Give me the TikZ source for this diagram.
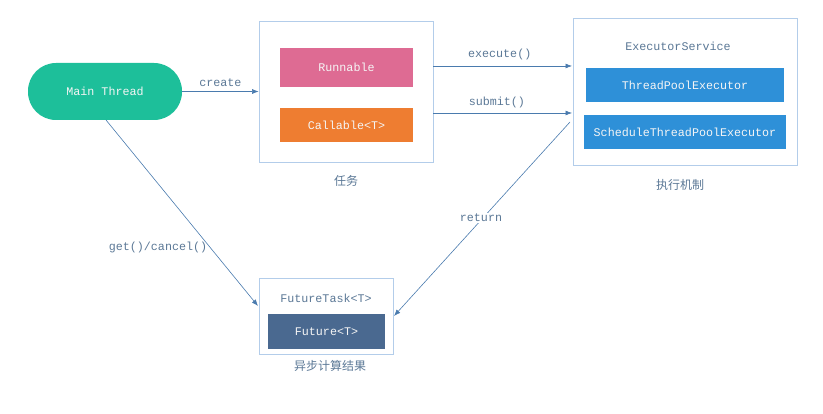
\documentclass[tikz,border=0pt]{standalone}
\usepackage{fontspec}
\setmainfont{Liberation Mono}
\newfontfamily\cjk{Noto Sans CJK SC}
\usetikzlibrary{arrows.meta}
\definecolor{teal1}{HTML}{1DBF9A}
\definecolor{pink1}{HTML}{DE6B93}
\definecolor{orange1}{HTML}{EE7D31}
\definecolor{blue1}{HTML}{2E90D8}
\definecolor{navy1}{HTML}{4A6990}
\definecolor{frame1}{HTML}{B3CDEA}
\definecolor{arrow1}{HTML}{4A7BAE}
\definecolor{label1}{HTML}{5B7896}
\begin{document}
\begin{tikzpicture}[x=1pt,y=-1pt,
  every node/.style={font=\fontsize{11.7}{13}\selectfont},
  frame/.style={draw=frame1,line width=0.8pt,fill=white},
  conn/.style={draw=arrow1,line width=0.6pt,-{Latex[length=6.5pt,width=5pt]}},
  lbl/.style={text=label1},
  captxt/.style={text=label1,font=\cjk\fontsize{12}{14}\selectfont}]
\useasboundingbox (0,0) rectangle (823,414);
% main thread
\node[fill=teal1,rounded corners=28pt,minimum width=154pt,minimum height=57pt,text=white!92!gray] (main) at (105,91.5) {Main Thread};
% task box
\node[frame,minimum width=174pt,minimum height=141pt] (task) at (346,91.5) {};
\node[fill=pink1,minimum width=133pt,minimum height=39pt,text=white!92!gray] (run) at (346.5,67.5) {Runnable};
\node[fill=orange1,minimum width=133pt,minimum height=34pt,text=white!92!gray] (call) at (346.5,125) {Callable<T>};
\node[captxt] (taskcap) at (346,181) {任务};
% executor box
\node[frame,minimum width=224pt,minimum height=147pt] (exec) at (685,91.5) {};
\node[lbl] (es) at (678,46.5) {ExecutorService};
\node[fill=blue1,minimum width=198pt,minimum height=34pt,text=white!92!gray] (tpe) at (685,85) {ThreadPoolExecutor};
\node[fill=blue1,minimum width=202pt,minimum height=34pt,text=white!92!gray] (stpe) at (685,132) {ScheduleThreadPoolExecutor};
\node[captxt] (execcap) at (680,185) {执行机制};
% future box
\node[frame,minimum width=134pt,minimum height=76pt] (ft) at (326,316) {};
\node[lbl] (ftl) at (326,298) {FutureTask<T>};
\node[fill=navy1,minimum width=117pt,minimum height=35pt,text=white!92!gray] (fut) at (326.5,331.5) {Future<T>};
\node[captxt] (ftcap) at (330,366) {异步计算结果};
% connectors
\coordinate (ex1) at (433,66);
\coordinate (ex2) at (572,66);
\coordinate (sb1) at (433,113);
\coordinate (sb2) at (572,113);
\coordinate (rt1) at (570,122);
\coordinate (rt2) at (394,316);
\coordinate (gc1) at (106,120);
\coordinate (gc2) at (258,306);
\draw[conn] (main.east) -- node[lbl,above=1pt] {create} (task.west);
\draw[conn] (ex1) -- node[lbl,above=2pt,pos=0.48] {execute()} (ex2);
\draw[conn] (sb1) -- node[lbl,above=1pt,pos=0.46] {submit()} (sb2);
\draw[conn] (rt1) -- (rt2);
\node[lbl,fill=white,inner sep=1pt] (retl) at (481,218) {return};
\draw[conn] (gc1) -- (gc2);
\node[lbl] (gcl) at (158,247) {get()/cancel()};
\end{tikzpicture}
\end{document}
